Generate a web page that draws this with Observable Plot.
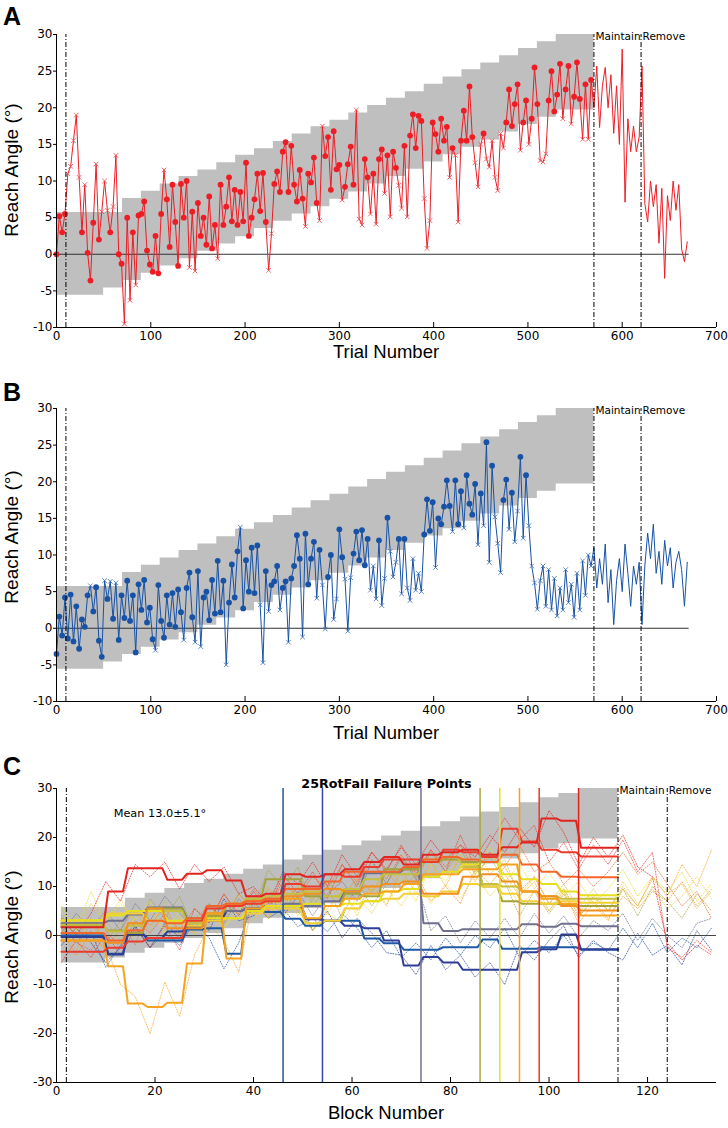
<!DOCTYPE html>
<html><head><meta charset="utf-8">
<script src="https://cdn.jsdelivr.net/npm/d3@7"></script>
<script src="https://cdn.jsdelivr.net/npm/@observablehq/plot@0.6"></script>
<style>
body{margin:0;background:#fff;}
#root{position:relative;width:728px;height:1128px;overflow:hidden;font-family:"Liberation Sans",Arial,sans-serif;color:#000;}
.panel{position:absolute;left:0;width:728px;}
.panel svg{display:block;}
.letter{position:absolute;left:3px;font-weight:bold;font-size:25px;line-height:25px;}
.ylab{position:absolute;font-size:19px;transform:translate(-50%,-50%) rotate(-90deg);white-space:nowrap;}
.xlab{position:absolute;font-size:18.5px;transform:translate(-50%,-50%);white-space:nowrap;}
</style></head><body><div id="root"></div>
<script>
// ---------- shared band (success window), trials ----------
const bandStart = [0,50,70,90,110,130,150,170,190,210,230,250,270,290,310,330,350,370,390,410,430,450,470,490,510,530,570];
const bandLo = [-5.6,-4.6,-3.6,-2.6,-1.6,-0.6,0.4,1.4,2.4,3.5,4.5,5.5,6.5,7.5,8.5,9.6,10.6,11.6,12.6,13.6,14.6,15.6,16.7,17.7,18.7,19.7,19.7];
const bandHi = [5.7,5.7,7.6,8.6,9.6,10.6,11.5,12.5,13.5,14.4,15.4,16.4,17.4,18.3,19.3,20.3,21.3,22.2,23.2,24.2,25.2,26.1,27.1,28.1,29.0,30.0,30.0];
const phaseLines = [10,570,620];
const phaseLabels = ["Maintain","Remove"];

// ---------- panel A (red subject), one value per 3 trials ----------
const trialIdx = d3.range(0, 670, 3);
const reachA = [
 0.0,5.2,3.0,5.5,11.0,12.0,15.5,19.0,10.5,3.0,
 9.5,0.2,-3.6,4.3,12.3,2.0,5.8,10.0,6.0,3.0,
 6.5,13.5,0.0,-1.3,-9.5,5.0,-6.3,3.0,-4.2,5.3,
 5.5,7.2,0.5,-1.4,-2.4,2.5,-2.6,5.5,11.5,7.5,
 1.0,9.5,4.4,-1.6,9.6,5.0,10.0,-1.8,5.8,-2.3,
 7.0,2.5,5.0,1.3,7.9,0.8,4.0,-0.6,9.5,4.0,
 6.5,10.5,4.5,8.8,4.0,8.5,4.5,12.5,2.5,5.0,
 7.5,11.0,5.9,11.1,4.4,-2.2,2.8,9.6,11.3,8.5,
 14.0,15.3,8.5,14.8,9.5,7.2,11.5,7.6,3.8,11.0,
 9.8,13.2,7.0,4.6,17.5,13.4,16.0,8.8,16.8,11.6,
 12.2,7.4,9.2,12.3,14.7,9.5,19.7,4.8,4.0,13.0,
 10.5,5.5,11.0,4.1,13.0,14.3,8.3,13.5,5.1,14.0,
 11.8,9.4,6.3,14.8,5.1,16.2,19.1,14.5,18.9,18.2,
 7.6,0.8,4.6,18.0,16.4,14.0,18.5,15.5,17.4,10.5,
 14.5,13.5,4.4,15.5,19.6,15.5,22.9,16.0,12.5,9.2,
 15.0,16.5,13.0,11.9,15.5,10.5,8.7,16.5,14.5,18.0,
 22.5,17.5,20.5,23.2,14.2,18.0,21.0,15.0,18.5,25.5,
 20.5,12.8,12.6,13.7,21.0,25.0,19.5,21.8,26.0,18.5,
 22.5,25.7,17.8,21.5,26.2,21.2,15.7,23.2,15.7,23.8,
 20.0,25.7,17.3,23.0,25.5,20.0,24.5,16.5,23.0,15.0,
 28.0,7.1,18.5,14.0,17.5,14.0,16.0,25.7,6.9,4.4,
 10.0,6.5,9.5,1.5,9.0,-3.3,8.0,4.6,10.0,6.0,
 9.5,0.7,-1.0,1.7];

// ---------- panel B (blue subject) ----------
const reachB = [
 -3.5,1.6,-1.0,4.2,-1.4,4.6,-1.8,3.0,-2.8,1.2,
 0.2,4.5,5.8,2.3,5.6,-1.7,-3.9,6.5,4.0,6.4,
 1.3,6.2,-1.6,4.5,1.4,6.5,1.0,4.5,-3.3,6.0,
 2.5,6.6,0.8,2.8,-1.5,-3.0,5.9,1.0,-1.3,4.5,
 0.5,4.8,0.2,5.3,2.2,-1.6,5.5,7.6,1.5,-1.9,
 7.8,-2.5,4.2,5.0,1.1,6.6,2.0,9.2,2.2,6.5,
 -5.0,3.5,8.7,4.2,10.5,13.8,2.7,9.3,5.0,11.0,
 4.8,11.3,3.2,-4.7,7.8,2.3,5.9,6.4,8.5,2.5,
 5.5,6.4,-1.9,6.8,8.5,12.7,9.5,-1.2,12.9,6.0,
 9.5,11.8,4.1,10.7,5.9,-0.1,7.0,10.0,1.2,4.0,
 13.5,9.7,6.7,-0.4,6.9,10.2,13.2,9.3,13.4,8.6,
 12.2,5.2,8.5,4.0,12.0,3.1,6.8,15.1,10.5,7.0,
 9.0,12.2,4.7,12.2,5.5,3.8,9.5,5.2,7.5,5.0,
 12.8,17.6,13.3,17.2,8.3,15.0,14.2,16.6,20.2,16.7,
 13.2,20.2,14.2,18.7,13.7,20.9,17.0,15.5,19.7,11.4,
 18.4,14.0,25.4,9.0,22.2,15.2,11.6,7.6,17.5,20.3,
 13.5,18.5,11.8,16.0,23.4,12.3,20.9,14.0,8.5,6.2,
 2.6,6.5,8.5,3.0,8.0,2.5,6.8,1.7,5.5,2.5,
 8.0,3.5,6.0,1.5,7.5,2.5,9.2,4.5,10.0,8.5,
 11.0,5.5,9.5,6.0,11.5,3.5,8.0,0.5,6.5,9.5,
 5.0,11.5,7.5,3.0,8.5,6.0,9.0,0.5,8.5,13.0,
 9.5,14.2,7.5,10.5,6.0,12.0,8.5,11.0,5.5,9.0,
 10.5,8.0,3.0,9.0];

// ---------- panel C: 12 subjects, block means per rotation step (solid) and raw blocks (dotted) ----------
const segStart = [1, ...d3.range(10, 114, 4)];
const rawBlocks = d3.range(1, 134, 3);
const cPhaseLines = [2,114,124];
const failBlocks = [46,54,74,86,90,94,98,106];
const failColors = ["#24559f","#3447a6","#737390","#a9a640","#e8e01f","#f4a21e","#e8392c","#e0231f"];

const subjNames  = ["blue1","navy","gray","olive","yellowOlive","yellow2","yellow","orange","orangeYellow","orangeRed","red98","red106"];
const subjColors = ["#1f58a4","#2c3e96","#6f6f8f","#a3a23a","#c6bf3f","#f1cf35","#e6df1e","#f2901f","#f5a31f","#f2662a","#ea3b2c","#e1241f"];

const stepBlue1 = [0.0,-3.7,0.5,-1.0,-1.0,1.2,1.5,-3.7,5.3,4.8,3.4,2.0,3.0,3.0,-0.6,-1.6,-2.9,-2.9,-2.4,-2.4,-0.8,-2.7,-2.7,-2.4,-2.4,-2.9,-2.9];
const stepNavy = [-0.3,-3.9,0.3,-0.5,0.8,1.8,3.0,5.0,5.5,6.0,6.0,3.3,3.0,2.0,1.5,-1.0,-6.1,-4.4,-5.5,-7.0,-7.0,-7.0,-3.4,-2.8,0.2,-2.8,-2.8];
const stepGray = [2.5,3.0,4.3,5.7,5.7,3.5,4.5,5.0,5.5,6.0,6.5,6.0,7.0,9.0,12.7,12.7,13.5,2.5,0.9,1.3,1.3,1.3,2.3,1.8,2.4,1.9,1.9];
const stepOlive = [2.0,1.0,0.5,5.5,5.5,3.0,4.0,6.0,7.5,11.5,11.5,8.0,6.0,8.5,8.0,13.5,13.5,15.0,15.5,15.0,10.0,7.0,6.5,6.5,6.3,6.0,6.0];
const stepYellowOlive = [2.2,0.8,2.0,5.0,5.0,2.5,4.5,6.5,7.5,8.0,8.5,9.0,8.0,9.5,11.5,12.5,12.5,15.5,16.0,14.0,10.5,10.0,9.0,8.0,7.5,7.5,7.5];
const stepYellow2 = [3.0,4.5,4.5,3.0,2.5,2.0,3.0,3.5,4.5,5.5,5.5,2.5,3.0,5.5,7.0,7.5,8.5,8.0,9.0,10.5,10.0,8.5,7.0,6.5,7.0,6.7,6.7];
const stepYellow = [3.1,4.1,5.0,5.0,3.0,3.0,3.5,3.5,5.0,6.0,6.0,6.5,6.0,6.5,7.0,9.0,9.5,12.0,13.0,14.5,15.0,12.5,11.5,10.5,9.0,8.2,8.2];
const stepOrange = [-1.0,-1.5,2.5,5.5,1.5,1.5,4.5,6.5,7.0,7.5,8.0,8.5,9.5,9.0,10.0,10.5,11.0,8.5,8.5,12.0,12.5,11.0,9.0,8.0,6.0,5.1,5.1];
const stepOrangeYellow = [-1.0,-6.3,-13.9,-14.6,-13.7,-5.7,4.5,-4.7,5.5,7.0,7.5,3.5,6.0,7.5,8.5,9.0,10.5,12.5,12.5,13.5,13.5,14.5,9.0,7.5,6.5,4.1,4.1];
const stepOrangeRed = [0.5,-1.0,1.0,3.0,2.5,3.5,6.0,6.5,7.0,7.5,9.5,9.5,11.0,13.0,13.0,13.0,14.0,15.5,16.0,15.5,15.0,16.5,14.5,13.0,12.0,11.9,11.9];
const stepRed98 = [-3.3,-2.5,-1.2,-0.5,-0.5,3.0,5.5,6.0,6.5,7.0,10.5,10.0,12.5,12.0,14.0,15.5,15.5,15.0,17.5,17.0,16.0,21.8,19.2,17.5,17.0,16.1,16.1];
const stepRed106 = [1.7,9.0,13.7,13.7,11.4,12.6,13.3,11.2,8.0,8.5,12.5,12.0,12.5,13.5,15.0,16.0,14.5,16.5,17.0,17.5,16.5,18.0,19.0,23.9,23.4,17.9,17.9];

const rawBlue1 = [1.5,-1.2,0.8,-6.5,-2.0,1.8,-2.5,0.5,-2.0,2.8,-0.5,-6.8,-1.5,7.0,3.5,5.5,1.8,3.5,0.8,4.5,1.5,-2.5,1.0,-4.5,-1.5,-5.0,-0.5,-4.0,0.0,-2.5,1.5,-4.5,-1.0,-3.5,0.0,-4.0,-1.5,-3.0,1.5,-2.5,2.5,-3.5,-0.5,-2.5,1.5];
const rawNavy = [-2.0,1.5,-1.5,-5.5,-2.5,2.0,-2.5,2.5,-0.5,3.5,1.0,7.5,3.0,4.0,7.5,4.0,8.0,1.0,5.0,-0.5,3.5,0.5,-3.5,-4.0,-8.0,-2.0,-7.0,-4.0,-8.5,-5.5,-10.0,-2.0,-5.0,-1.0,2.0,-4.5,-1.0,-3.5,-5.0,0.5,-4.0,-2.0,-6.0,1.0,-3.0];
const rawGray = [0.5,4.5,1.5,5.0,1.0,6.5,3.0,8.0,4.5,1.5,6.5,2.5,7.5,4.0,8.0,5.0,9.0,4.0,8.5,11.0,7.0,15.5,10.5,16.0,11.5,1.0,4.0,-1.5,3.0,-0.5,3.5,-0.5,4.5,0.5,4.0,-0.5,3.0,1.0,4.5,-1.0,3.5,0.0,-2.5,2.5,3.5];
const rawOlive = [4.0,-0.5,3.5,-1.5,3.0,-2.0,7.5,3.5,8.0,1.0,6.0,3.5,8.5,5.5,13.5,9.5,14.0,6.0,10.0,3.5,11.0,6.0,10.5,16.0,11.5,17.0,13.0,17.5,12.5,16.0,11.0,4.0,9.0,4.5,8.5,3.5,8.0,5.0,9.5,4.0,10.0,7.0,3.5,8.5,5.0];
const rawYellowOlive = [0.5,4.0,-0.5,3.0,-1.0,4.5,1.0,7.0,3.0,0.5,6.5,3.5,8.5,5.5,10.0,6.0,10.5,7.0,11.0,6.5,12.5,9.0,14.0,10.5,15.0,12.0,17.5,13.5,18.0,12.5,15.5,8.0,12.0,6.5,10.5,5.5,9.5,5.0,10.0,6.0,11.5,8.5,10.5,5.5,9.0];
const rawYellow2 = [5.0,1.0,6.5,2.5,7.5,2.0,5.0,0.5,4.0,0.0,4.5,1.5,6.0,3.0,7.5,4.0,7.0,1.0,4.5,2.5,8.0,4.5,9.5,6.0,11.0,6.5,10.5,7.5,12.5,8.0,11.5,6.0,9.0,5.0,9.5,4.5,8.5,5.0,11.0,6.5,9.5,5.5,8.0,12.0,7.5];
const rawYellow = [6.0,1.0,9.0,2.5,6.5,3.0,7.0,0.5,5.0,1.0,6.0,1.5,5.0,8.0,3.5,9.0,4.0,8.5,4.5,9.5,4.0,10.0,6.5,11.5,7.0,14.5,11.0,16.5,12.5,18.0,11.0,14.5,9.5,13.0,8.0,11.0,6.5,9.5,13.5,8.0,12.0,9.0,13.0,7.0,10.5];
const rawOrange = [1.0,-4.0,0.5,-3.0,1.5,5.0,2.0,6.0,0.0,3.5,6.0,3.0,8.5,5.0,9.5,6.0,10.0,7.5,11.0,8.0,11.5,9.0,13.0,9.5,12.5,7.0,10.0,6.5,13.5,10.5,14.0,9.0,12.0,6.5,9.5,4.0,7.0,3.5,8.0,5.5,9.0,7.0,11.0,6.0,9.5];
const rawOrangeYellow = [1.5,-3.0,2.5,-2.0,-10.0,-12.5,-20.0,-9.5,-16.5,-4.0,2.0,-1.0,-7.5,8.0,3.5,9.5,5.0,1.0,5.5,9.0,5.0,10.5,6.0,13.5,8.5,15.0,10.0,16.5,11.0,17.0,12.5,8.0,11.0,5.0,9.0,2.5,6.5,3.0,9.5,6.0,12.0,8.0,14.5,10.0,17.5];
const rawOrangeRed = [2.5,-1.5,-3.0,1.0,-2.5,3.0,0.5,4.5,1.0,5.5,3.0,8.5,4.5,9.5,6.0,11.0,8.0,12.0,9.5,14.5,11.0,15.0,11.5,16.5,12.0,17.5,14.0,18.5,13.0,17.0,14.0,18.5,13.0,15.0,10.5,13.5,10.0,13.0,17.0,12.5,15.0,10.5,6.0,9.0,3.5];
const rawRed98 = [-5.5,-1.0,-4.5,0.5,-4.0,1.5,-2.5,2.0,-3.0,5.5,2.5,8.5,4.0,9.0,5.0,12.5,8.5,13.0,7.5,14.5,10.0,17.0,13.0,18.5,12.5,17.5,13.0,20.5,14.0,19.0,24.0,19.5,22.5,15.0,19.0,13.5,18.5,14.5,19.5,13.0,17.0,-2.5,-4.5,-1.0,-3.5];
const rawRed106 = [3.5,0.0,4.5,11.0,7.0,14.5,12.0,15.0,9.5,14.5,11.0,14.0,8.5,10.0,6.5,13.0,10.5,15.0,10.0,16.5,12.0,17.0,13.5,18.0,14.5,19.5,15.5,18.5,16.0,20.5,17.0,22.0,18.0,25.5,21.0,14.5,20.0,16.0,20.5,14.0,12.0,-1.5,-5.0,-2.0,-4.0];

const stepSeries = [stepBlue1,stepNavy,stepGray,stepOlive,stepYellowOlive,stepYellow2,stepYellow,stepOrange,stepOrangeYellow,stepOrangeRed,stepRed98,stepRed106];
const rawSeries = [rawBlue1,rawNavy,rawGray,rawOlive,rawYellowOlive,rawYellow2,rawYellow,rawOrange,rawOrangeYellow,rawOrangeRed,rawRed98,rawRed106];

const ticksAB_x = [0,100,200,300,400,500,600,700];
const ticksAB_y = [-10,-5,0,5,10,15,20,25,30];
const ticksC_x = [0,20,40,60,80,100,120];
const ticksC_y = [-30,-20,-10,0,10,20,30];

// ---------- helpers ----------
const root = document.getElementById("root");
const fmt = d => String(d);
const dashDot = "5,2,1,2";

function inBand(t, v) {
  let k = 0;
  for (let i = 0; i < bandStart.length; i++) if (bandStart[i] <= t) k = i;
  return v >= bandLo[k] && v <= bandHi[k];
}

function place(svg, top) {
  const d = document.createElement("div");
  d.className = "panel";
  d.style.top = top + "px";
  d.appendChild(svg);
  root.appendChild(d);
}

function addText(cls, txt, x, y) {
  const d = document.createElement("div");
  d.className = cls; d.textContent = txt;
  if (x != null) d.style.left = x + "px";
  d.style.top = y + "px";
  root.appendChild(d);
}

const labelFont = {textAnchor: "start", fontSize: 10.5, fill: "#000", dy: 2, dx: 1.5};

function trialPanel(values, color, xColor) {
  const data = trialIdx.map((t, i) => ({t, v: values[i]}));
  const band = bandStart.map((t, i) => ({t, lo: bandLo[i], hi: bandHi[i]}));
  const marked = data.filter(d => d.t < 570).map(d => ({...d, ok: inBand(d.t, d.v)}));
  const H = 366, mt = 34, mb = 39;
  return Plot.plot({
    width: 728, height: H, marginLeft: 56, marginRight: 12, marginTop: mt, marginBottom: mb,
    x: {domain: [0, 700]}, y: {domain: [-10, 30]},
    style: {fontFamily: "DejaVu Sans", fontSize: "12px", background: "transparent", color: "#000"},
    marks: [
      Plot.areaY(band, {x: "t", y1: "lo", y2: "hi", curve: "step-after", fill: "#bfbfbf"}),
      Plot.ruleY([0], {x1: 0, x2: 671, stroke: "#333", strokeWidth: 1}),
      Plot.line(data, {x: "t", y: "v", stroke: color, strokeWidth: 1}),
      Plot.dot(marked.filter(d => !d.ok), {x: "t", y: "v", symbol: "times", r: 2.2, stroke: xColor, strokeWidth: 0.9}),
      Plot.dot(marked.filter(d => d.ok), {x: "t", y: "v", r: 2.9, fill: color, stroke: "none"}),
      Plot.ruleX(phaseLines, {y1: -10, y2: 30, stroke: "#000", strokeWidth: 1, strokeDasharray: dashDot}),
      Plot.text([phaseLabels[0]], {x: phaseLines[1], y: 30, ...labelFont}),
      Plot.text([phaseLabels[1]], {x: phaseLines[2], y: 30, ...labelFont}),
      Plot.ruleX([0], {y1: -10, y2: 30, stroke: "#000", strokeWidth: 1}),
      Plot.ruleY([-10], {x1: 0, x2: 700, stroke: "#000", strokeWidth: 1.2}),
      Plot.ruleX(ticksAB_x, {stroke: "#000", insetTop: H - mt - mb - 5}),
      Plot.axisY({ticks: ticksAB_y, tickSize: 3, tickPadding: 1, tickFormat: fmt, label: null}),
      Plot.axisX({ticks: ticksAB_x, tickSize: 0, tickPadding: 4, tickFormat: fmt, label: null})
    ]
  });
}

function blockPanel() {
  const H = 374, mt = 34, mb = 46;
  const band = bandStart.map((t, i) => ({b: Math.max(1, t / 5), lo: bandLo[i], hi: bandHi[i]}));
  const marks = [Plot.areaY(band, {x: "b", y1: "lo", y2: "hi", curve: "step-after", fill: "#bfbfbf"})];
  rawSeries.forEach((arr, s) => {
    const pts = rawBlocks.map((b, i) => ({b, v: arr[i]}));
    marks.push(Plot.line(pts, {x: "b", y: "v", stroke: subjColors[s], strokeWidth: 1, strokeDasharray: "1,1.6", strokeOpacity: 0.7}));
  });
  marks.push(Plot.ruleY([0], {stroke: "#444", strokeWidth: 1}));
  stepSeries.forEach((arr, s) => {
    const pts = [];
    arr.forEach((v, k) => {
      const end = k + 1 < segStart.length ? segStart[k + 1] : 114;
      pts.push({b: k === 0 ? segStart[k] : segStart[k] + 0.5, v});
      pts.push({b: k + 1 < segStart.length ? end - 0.5 : end, v});
    });
    marks.push(Plot.line(pts, {x: "b", y: "v", stroke: subjColors[s], strokeWidth: 2}));
  });
  failBlocks.forEach((b, i) => marks.push(Plot.ruleX([b], {y1: -30, y2: 30, stroke: failColors[i], strokeWidth: 1.5})));
  marks.push(
    Plot.ruleX(cPhaseLines, {y1: -30, y2: 30, stroke: "#000", strokeWidth: 1, strokeDasharray: dashDot}),
    Plot.text([phaseLabels[0]], {x: cPhaseLines[1], y: 30, ...labelFont}),
    Plot.text([phaseLabels[1]], {x: cPhaseLines[2], y: 30, ...labelFont}),
    Plot.text(["25RotFail Failure Points"], {frameAnchor: "top", dy: -10, fontWeight: "bold", fontSize: 12.7, fill: "#000"}),
    Plot.text(["Mean 13.0±5.1°"], {x: 11.6, y: 25, textAnchor: "start", fontSize: 11.3, fill: "#000"}),
    Plot.ruleX([0], {y1: -30, y2: 30, stroke: "#000", strokeWidth: 1}),
    Plot.ruleY([-30], {x1: 0, x2: 134, stroke: "#000", strokeWidth: 1.2}),
    Plot.ruleX(ticksC_x, {stroke: "#000", insetTop: H - mt - mb - 5}),
    Plot.axisY({ticks: ticksC_y, tickSize: 3, tickPadding: 1, tickFormat: fmt, label: null}),
    Plot.axisX({ticks: ticksC_x, tickSize: 0, tickPadding: 4, tickFormat: fmt, label: null})
  );
  return Plot.plot({
    width: 728, height: H, marginLeft: 56, marginRight: 12, marginTop: mt, marginBottom: mb,
    x: {domain: [0, 134]}, y: {domain: [-30, 30]},
    style: {fontFamily: "DejaVu Sans", fontSize: "12px", background: "transparent", color: "#000"},
    marks
  });
}

place(trialPanel(reachA, "#ee1d25", "#f0525a"), 0);
place(trialPanel(reachB, "#1752a6", "#4a78bd"), 374);
place(blockPanel(), 754);

addText("letter", "A", null, 4);
addText("letter", "B", null, 380);
addText("letter", "C", null, 754);
addText("ylab", "Reach Angle (°)", 12, 170);
addText("ylab", "Reach Angle (°)", 12, 537);
addText("ylab", "Reach Angle (°)", 12, 937);
addText("xlab", "Trial Number", 386, 352);
addText("xlab", "Trial Number", 386, 733);
addText("xlab", "Block Number", 386, 1113);
</script></body></html>
